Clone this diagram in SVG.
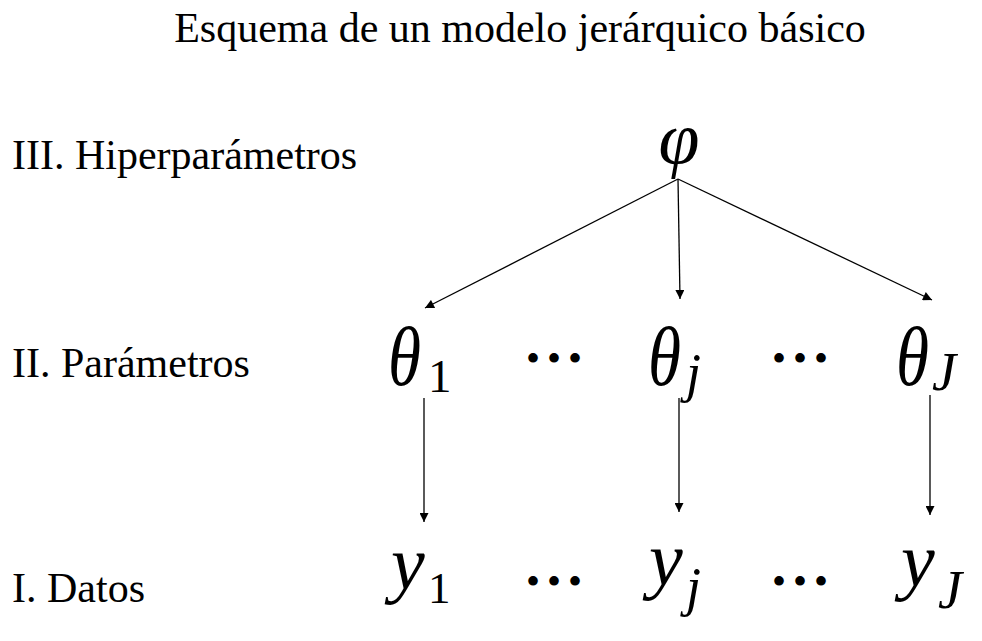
<svg xmlns="http://www.w3.org/2000/svg" width="982" height="641" viewBox="0 0 982 641">
<style>
.t{font-family:"Liberation Serif",serif;font-size:42px;fill:#000}
.l{font-family:"Liberation Serif",serif;font-size:42px;fill:#000}
.th{font-family:"Liberation Serif",serif;font-style:italic;font-size:84px;fill:#000}
.m{font-family:"Liberation Serif",serif;font-style:italic;font-size:76px;fill:#000}
.ph{font-family:"Liberation Serif",serif;font-style:italic;font-size:74px;fill:#000}
.s{font-family:"Liberation Serif",serif;font-size:47px;fill:#000}
.si{font-family:"Liberation Serif",serif;font-style:italic;font-size:54px;fill:#000}
.d{font-family:"Liberation Serif",serif;font-size:40px;letter-spacing:7px;fill:#000}
.c line{stroke:#000;stroke-width:1.3;marker-end:url(#a)}
</style>
<defs>
<marker id="a" viewBox="0 0 10 10" refX="10" refY="5" markerWidth="10" markerHeight="9" markerUnits="userSpaceOnUse" orient="auto">
<path d="M0,0 L10,5 L0,10 z" fill="#000"/>
</marker>
</defs>
<rect width="982" height="641" fill="#fff"/>
<text class="t" x="520" y="42" text-anchor="middle">Esquema de un modelo jerárquico básico</text>
<text class="l" x="12" y="169">III. Hiperparámetros</text>
<text class="l" x="12" y="377">II. Parámetros</text>
<text class="l" x="12" y="602">I. Datos</text>
<g id="phi"><text class="ph" x="679" y="163" text-anchor="middle">φ</text></g>
<g id="theta1"><text class="th" transform="translate(388,385) scale(0.8,1)">θ</text><text class="s" x="428" y="392">1</text></g>
<g id="dots1"><text class="d" x="526" y="372">•••</text></g>
<g id="thetaj"><text class="th" transform="translate(648,385) scale(0.8,1)">θ</text><text class="si" x="686" y="391">j</text></g>
<g id="dots2"><text class="d" x="772" y="372">•••</text></g>
<g id="thetaJ"><text class="th" transform="translate(896,385) scale(0.8,1)">θ</text><text class="si" x="932" y="390">J</text></g>
<g id="y1"><text class="m" x="391" y="589">y</text><text class="s" x="428" y="603" style="font-size:45px">1</text></g>
<g id="dots3"><text class="d" x="526" y="595">•••</text></g>
<g id="yj"><text class="m" x="649" y="585">y</text><text class="si" x="686" y="605">j</text></g>
<g id="dots4"><text class="d" x="772" y="595">•••</text></g>
<g id="yJ"><text class="m" x="901" y="586">y</text><text class="si" x="938" y="608">J</text></g>
<g class="c">
<line x1="678" y1="179" x2="425" y2="308"/>
<line x1="678" y1="179" x2="680" y2="299"/>
<line x1="678" y1="179" x2="932" y2="300"/>
<line x1="424" y1="398" x2="424" y2="522"/>
<line x1="679" y1="398" x2="679" y2="512"/>
<line x1="930" y1="395" x2="930" y2="515"/>
</g>
</svg>
